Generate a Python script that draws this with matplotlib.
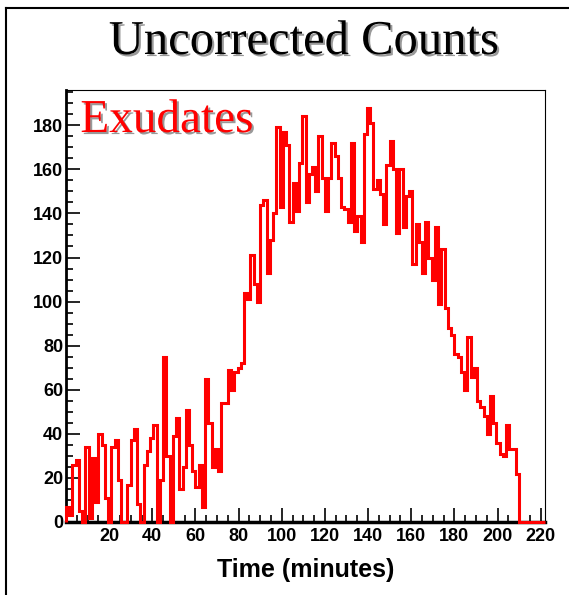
import matplotlib
matplotlib.use('Agg')
import matplotlib.pyplot as plt
import matplotlib.patheffects as pe
from matplotlib.lines import Line2D
from matplotlib.ticker import MultipleLocator
import numpy as np

# histogram of counts, 1.5 minute bins starting at t=0
bin_width = 1.5
counts = [
    7, 3, 26, 28, 5, 0, 34, 2, 29, 9,
    40, 35, 11, 0, 34, 37, 19, 0, 0, 17,
    37, 42, 8, 0, 26, 32, 38, 44, 0, 19,
    75, 30, 0, 39, 47, 15, 25, 51, 35, 23,
    16, 26, 7, 65, 45, 25, 33, 23, 54, 54,
    69, 60, 68, 70, 72, 104, 101, 121, 108, 100,
    144, 146, 113, 128, 140, 179, 143, 177, 171, 136,
    154, 141, 163, 184, 145, 158, 161, 150, 175, 156,
    141, 156, 172, 166, 156, 143, 142, 136, 172, 132,
    139, 127, 176, 188, 181, 151, 155, 149, 135, 162,
    173, 160, 131, 160, 134, 148, 150, 117, 135, 127,
    113, 136, 120, 110, 134, 99, 124, 97, 88, 85,
    76, 75, 68, 60, 84, 66, 70, 55, 52, 48,
    40, 57, 45, 36, 31, 30, 44, 33, 33, 22,
    0, 0, 0, 0, 0, 0, 0, 0,
]
x_max = 222
y_max = 196
title = 'Uncorrected Counts'
label = 'Exudates'
xlabel = 'Time (minutes)'

W, H = 569, 595
fig = plt.figure(figsize=(W / 100, H / 100), dpi=100)
ax = fig.add_axes([66 / W, 1 - 522 / H, (545 - 66) / W, (522 - 90) / H])

edges = np.arange(len(counts) + 1) * bin_width
ax.stairs(counts, edges, color='red', lw=2.2, baseline=0, zorder=3,
          clip_on=False)

ax.set_xlim(0, x_max)
ax.set_ylim(0, y_max)
ax.xaxis.set_major_locator(MultipleLocator(20))
ax.xaxis.set_minor_locator(MultipleLocator(5))
ax.yaxis.set_major_locator(MultipleLocator(20))
ax.yaxis.set_minor_locator(MultipleLocator(5))
ax.set_xticks(np.arange(20, 221, 20))
ax.set_yticks(np.arange(0, 181, 20))

ax.tick_params(which='both', direction='in', top=False, right=False, width=1.2)
ax.tick_params(which='major', length=10)
ax.tick_params(which='minor', length=5)
ax.tick_params(axis='x', pad=4)
ax.tick_params(axis='y', pad=2)
for lab in ax.get_xticklabels() + ax.get_yticklabels():
    lab.set_fontfamily('Liberation Sans')
    lab.set_fontweight('bold')
    lab.set_fontsize(13)

ax.spines['left'].set_linewidth(2)
ax.spines['bottom'].set_linewidth(2.5)
ax.spines['top'].set_linewidth(0.8)
ax.spines['right'].set_linewidth(0.8)

ax.set_xlabel(xlabel, fontfamily='Liberation Sans', fontweight='bold',
              fontsize=18, labelpad=10)

shadow = [pe.SimplePatchShadow(offset=(1.5, -1.5), shadow_rgbFace='0.6', alpha=1),
          pe.Normal()]
fig.text(304 / W, 1 - 42 / H, title, ha='center', va='center',
         fontfamily='Liberation Serif', fontsize=35, color='black',
         path_effects=shadow)
ax.text(0.03, 0.978, label, transform=ax.transAxes, ha='left', va='top',
        fontfamily='Liberation Serif', fontsize=34, color='red',
        path_effects=shadow)

# canvas border (left and top edges)
fig.add_artist(Line2D([6 / W, 6 / W], [0, 1 - 8 / H], color='black', lw=1.5,
                      transform=fig.transFigure))
fig.add_artist(Line2D([6 / W, 1], [1 - 8 / H, 1 - 8 / H], color='black', lw=1.5,
                      transform=fig.transFigure))

fig.savefig('out.png', dpi=100, facecolor='white')
